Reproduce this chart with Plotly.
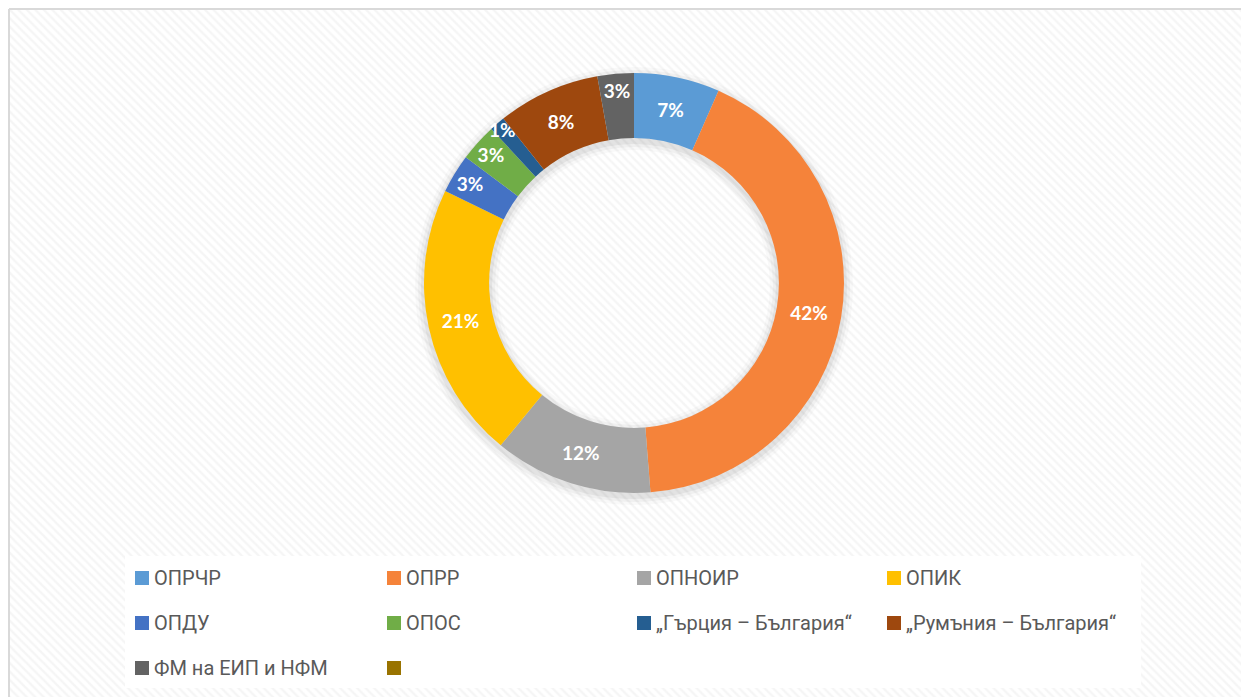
import plotly.graph_objects as go

W, H = 1249, 697
OFF = 8  # page body margin

labels = ["ОПРЧР", "ОПРР", "ОПНОИР", "ОПИК", "ОПДУ", "ОПОС",
          "„Гърция – България“", "„Румъния – България“", "ФМ на ЕИП и НФМ", " "]
values = [6.6, 42.2, 12.2, 21.3, 3.0, 2.9, 1.2, 7.9, 2.8, 0]
colors = ["#5B9BD5", "#F5833A", "#A5A5A5", "#FFC000", "#4472C4", "#70AD47",
          "#255E91", "#9E480E", "#636363", "#997300"]


def px(x):
    return (x - OFF) / W


def py(y):
    return 1 - (y - OFF) / H


fig = go.Figure()

# hatched chart-area background
fig.add_trace(go.Scatter(
    x=[0, 1, 1, 0, 0], y=[0, 0, 1, 1, 0], mode="lines", fill="toself",
    line=dict(width=0), fillcolor="white",
    fillpattern=dict(shape="\\", fgcolor="#ececec", bgcolor="white", size=6, solidity=0.4),
    hoverinfo="skip", showlegend=False))

cx, cy, R = 634, 283, 210
hole = 0.69

# soft shadow rings
for k, a in [(9, 0.025), (6, 0.035), (3, 0.05)]:
    r = R + k
    fig.add_trace(go.Pie(
        values=[1], labels=["s"], hole=(R * hole - k) / r, sort=False,
        marker=dict(colors=[f"rgba(0,0,0,{a})"], line=dict(width=0)),
        textinfo="none", hoverinfo="skip", showlegend=False,
        domain=dict(x=[px(cx - r), px(cx + r)], y=[py(cy + 3 + r), py(cy + 3 - r)])))

fig.add_trace(go.Pie(
    labels=labels, values=values, hole=hole, sort=False, direction="clockwise",
    rotation=0, marker=dict(colors=colors, line=dict(width=0)),
    texttemplate=["%{percent:.0%}" if v > 0 else "" for v in values],
    textposition="inside",
    insidetextorientation="horizontal",
    textfont=dict(family="Lato", size=19, color="white", weight="bold"),
    showlegend=False,
    domain=dict(x=[px(cx - R), px(cx + R)], y=[py(cy + R), py(cy - R)])))

shapes = [
    dict(type="line", xref="paper", yref="paper", x0=px(9), x1=1, y0=py(9), y1=py(9),
         line=dict(color="#d9d9d9", width=2)),
    dict(type="line", xref="paper", yref="paper", x0=px(9), x1=px(9), y0=0, y1=py(9),
         line=dict(color="#d9d9d9", width=2)),
    dict(type="rect", xref="paper", yref="paper", x0=px(125), x1=px(1141),
         y0=py(688), y1=py(556), fillcolor="rgba(255,255,255,0.93)", line=dict(width=0),
         layer="above"),
]
annotations = []
col_x = [135, 387, 637, 887]
row_y = [578, 623, 668]
for i, (lab, col) in enumerate(zip(labels, colors)):
    xm = col_x[i % 4]
    ym = row_y[i // 4]
    shapes.append(dict(type="rect", xref="paper", yref="paper",
                       x0=px(xm), x1=px(xm + 14), y0=py(ym + 7), y1=py(ym - 7),
                       fillcolor=col, line=dict(width=0), layer="above"))
    annotations.append(dict(x=px(xm + 17), y=py(ym), xref="paper", yref="paper",
                            text=lab, showarrow=False, xanchor="left", yanchor="middle",
                            font=dict(family="Roboto", size=20, color="#595959")))

fig.update_layout(
    width=W, height=H, margin=dict(l=0, r=0, t=0, b=0),
    paper_bgcolor="white", plot_bgcolor="rgba(0,0,0,0)",
    xaxis=dict(range=[0, 1], domain=[px(9), 1], visible=False, fixedrange=True),
    yaxis=dict(range=[0, 1], domain=[0, py(9)], visible=False, fixedrange=True),
    uniformtext=dict(minsize=19, mode="show"),
    shapes=shapes, annotations=annotations, showlegend=False,
)

fig.write_html("out.html")
